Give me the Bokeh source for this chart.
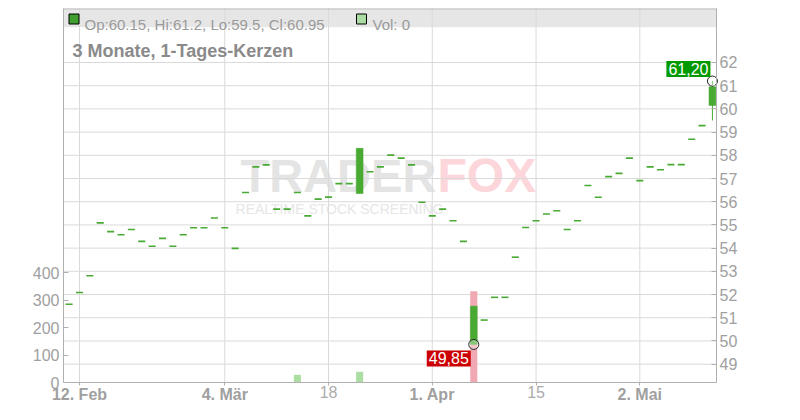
import numpy as np
import pandas as pd
from bokeh.plotting import figure
from bokeh.models import Range1d, LinearAxis, FixedTicker, Label, BoxAnnotation
from bokeh.embed import file_html
from bokeh.resources import INLINE

# ---------------- data ----------------
holidays = ["2025-04-18", "2025-04-21", "2025-05-01"]
dates = pd.bdate_range("2025-02-11", "2025-05-13", freq="C", holidays=holidays)

opens = [51.58, 52.09, 52.81, 55.09, 54.71, 54.58, 54.80, 54.29, 54.08, 54.42,
         54.08, 54.58, 54.88, 54.88, 55.30, 54.88, 53.99, 56.40, 57.50, 57.59,
         55.68, 55.68, 56.40, 55.39, 56.11, 56.20, 56.78, 56.78, 56.35, 57.29,
         57.50, 58.01, 57.88, 57.59, 55.98, 55.39, 55.68, 55.18, 54.29, 49.85,
         50.90, 51.88, 51.88, 53.61, 54.89, 55.18, 55.47, 55.61, 54.80, 55.18,
         56.70, 56.19, 57.08, 57.22, 57.88, 56.91, 57.50, 57.38, 57.60, 57.60,
         58.69, 59.28, 60.15]
highs = [51.58, 52.09, 52.81, 55.09, 54.71, 54.58, 54.80, 54.29, 54.08, 54.42,
         54.08, 54.58, 54.88, 54.88, 55.30, 54.88, 53.99, 56.40, 57.50, 57.59,
         55.68, 55.68, 56.40, 55.39, 56.11, 56.20, 56.78, 56.78, 58.30, 57.29,
         57.50, 58.01, 57.88, 57.59, 55.98, 55.39, 55.68, 55.18, 54.29, 51.50,
         50.90, 51.88, 51.88, 53.61, 54.89, 55.18, 55.47, 55.61, 54.80, 55.18,
         56.70, 56.19, 57.08, 57.22, 57.88, 56.91, 57.50, 57.38, 57.60, 57.60,
         58.69, 59.28, 61.20]
lows = [51.58, 52.09, 52.81, 55.09, 54.71, 54.58, 54.80, 54.29, 54.08, 54.42,
        54.08, 54.58, 54.88, 54.88, 55.30, 54.88, 53.99, 56.40, 57.50, 57.59,
        55.68, 55.68, 56.40, 55.39, 56.11, 56.20, 56.78, 56.78, 56.35, 57.29,
        57.50, 58.01, 57.88, 57.59, 55.98, 55.39, 55.68, 55.18, 54.29, 49.85,
        50.90, 51.88, 51.88, 53.61, 54.89, 55.18, 55.47, 55.61, 54.80, 55.18,
        56.70, 56.19, 57.08, 57.22, 57.88, 56.91, 57.50, 57.38, 57.60, 57.60,
        58.69, 59.28, 59.50]
closes = [51.58, 52.09, 52.81, 55.09, 54.71, 54.58, 54.80, 54.29, 54.08, 54.42,
          54.08, 54.58, 54.88, 54.88, 55.30, 54.88, 53.99, 56.40, 57.50, 57.59,
          55.68, 55.68, 56.40, 55.39, 56.11, 56.20, 56.78, 56.78, 58.30, 57.29,
          57.50, 58.01, 57.88, 57.59, 55.98, 55.39, 55.68, 55.18, 54.29, 51.50,
          50.90, 51.88, 51.88, 53.61, 54.89, 55.18, 55.47, 55.61, 54.80, 55.18,
          56.70, 56.19, 57.08, 57.22, 57.88, 56.91, 57.50, 57.38, 57.60, 57.60,
          58.69, 59.28, 60.95]
volumes = [0, 0, 0, 0, 0, 0, 0, 0, 0, 0,
           0, 0, 0, 0, 0, 0, 0, 0, 0, 0,
           0, 0, 28, 0, 0, 0, 0, 0, 39, 0,
           0, 0, 0, 0, 0, 0, 0, 0, 0, 332,
           0, 0, 0, 0, 0, 0, 0, 0, 0, 0,
           0, 0, 0, 0, 0, 0, 0, 0, 0, 0,
           0, 0, 0]

tick_dates = ["2025-02-12", "2025-03-04", "2025-03-18", "2025-04-01", "2025-04-15", "2025-05-02"]
tick_labels = ["12. Feb", "4. Mär", "18", "1. Apr", "15", "2. Mai"]
tick_bold = [True, True, False, True, False, True]
price_ticks = list(range(49, 63))
vol_ticks = [0, 100, 200, 300, 400]

title_text = "3 Monate, 1-Tages-Kerzen"

# ---------------- geometry (reference px -> data) ----------------
PX_PER_DAY = 10.376
PX_PER_EUR = 23.64
def X(px):
    return (px - 79.0) / PX_PER_DAY + 1
def Y(py):
    return 62 - (py - 66.0) / PX_PER_EUR

W, H = 784, 404
PL, PR = 63, 716          # plot area left/right (canvas px)
TOP, AX = 8, 382          # canvas px of chart top and of the time axis
f = (AX - TOP) / (392 - 11)                  # slight vertical squeeze vs reference
s = (Y(11) - Y(392)) / (AX - TOP)            # price per canvas px
def CY(cy):                                  # canvas px -> price
    return Y(11) - (cy - TOP) * s
def VOL(cy):                                 # canvas px -> volume
    return (AX - cy) / f * 400 / 112.0

o = np.array(opens); h = np.array(highs); l = np.array(lows); c = np.array(closes)
v = np.array(volumes, dtype=float)
k = np.arange(len(dates))
date_keys = [d.strftime("%Y-%m-%d") for d in dates]
tick_pos = np.array([date_keys.index(d) for d in tick_dates])

GREEN = "#49aa33"
AXC = "#b0b0b0"
GRIDC = "#dadada"
FONT = "Liberation Sans"

xl, xr = X(PL), X(PR)
p = figure(width=W, height=H, output_backend="svg", toolbar_location=None, title=None,
           x_range=Range1d(X(0), X(W)), y_range=Range1d(CY(H), CY(0)),
           y_axis_location="right", x_axis_location=None,
           min_border_left=0, min_border_right=0, min_border_top=0, min_border_bottom=0)
p.background_fill_color = "white"
p.border_fill_color = "white"
p.outline_line_color = None
p.xgrid.visible = False
p.ygrid.visible = False

# price axis (right edge of plot area)
pax = p.yaxis[0]
pax.ticker = FixedTicker(ticks=price_ticks)
pax.fixed_location = xr
pax.bounds = (CY(AX), CY(TOP))
pax.major_tick_in = 5
pax.major_tick_out = 0
pax.minor_tick_line_color = None
pax.axis_line_color = AXC
pax.major_tick_line_color = AXC
pax.major_label_standoff = 3
pax.major_label_text_font = FONT
pax.major_label_text_font_size = "16px"
pax.major_label_text_color = "#a0a0a0"

# volume axis (left edge of plot area)
p.extra_y_ranges = {"vol": Range1d(VOL(H), VOL(0))}
vax = LinearAxis(y_range_name="vol", ticker=FixedTicker(ticks=vol_ticks), bounds=(0, VOL(TOP)),
                 fixed_location=xl)
vax.major_tick_in = 5
vax.major_tick_out = 0
vax.minor_tick_line_color = None
vax.axis_line_color = AXC
vax.major_tick_line_color = AXC
vax.major_label_standoff = 4
vax.major_label_text_font = FONT
vax.major_label_text_font_size = "16px"
vax.major_label_text_color = "#a0a0a0"
p.add_layout(vax, "left")

# time axes: bold month labels and plain day labels, both at the axis position
for bold_flag in (True, False):
    sel = [i for i, b in enumerate(tick_bold) if b == bold_flag]
    ax = LinearAxis(fixed_location=CY(AX), bounds=(xl, xr),
                    ticker=FixedTicker(ticks=[int(tick_pos[i]) for i in sel]),
                    major_label_overrides={int(tick_pos[i]): tick_labels[i] for i in sel})
    ax.axis_line_color = AXC if bold_flag else None
    ax.major_tick_in = 0
    ax.major_tick_out = 3
    ax.minor_tick_line_color = None
    ax.major_tick_line_color = AXC
    ax.major_label_standoff = 0
    ax.major_label_text_font = FONT
    ax.major_label_text_font_size = "16px"
    ax.major_label_text_font_style = "bold" if bold_flag else "normal"
    ax.major_label_text_color = "#a0a0a0" if bold_flag else "#ababab"
    p.add_layout(ax, "below")

# header bar + watermark (below grid)
p.add_layout(BoxAnnotation(left=xl, right=xr, top=CY(TOP), bottom=Y(30), fill_color="#e6e6e6",
                           fill_alpha=1.0, line_color=None, level="image"))
p.add_layout(Label(x=X(240), y=Y(208), text="TRADER", text_font=FONT, text_font_style="bold",
                   text_font_size="47px", text_color="#e4e4e4", level="image"))
p.add_layout(Label(x=X(437), y=Y(208), text="FOX", text_font=FONT, text_font_style="bold",
                   text_font_size="48px", text_color="#fcd6da", level="image"))
p.add_layout(Label(x=X(339), y=Y(223), text="REALTIME STOCK SCREENING", text_font=FONT,
                   text_font_size="14px", text_color="#e6e6e6", text_align="center", level="image"))

# grid lines and top border
npt = len(price_ticks)
p.segment(x0=[xl] * npt, y0=price_ticks, x1=[xr] * npt, y1=price_ticks, line_color=GRIDC, line_width=1, level="underlay")
p.segment(x0=tick_pos, y0=CY(AX), x1=tick_pos, y1=CY(TOP), line_color=GRIDC, line_width=1, level="underlay")
p.segment(x0=[xl], y0=[CY(TOP + 0.5)], x1=[xr], y1=[CY(TOP + 0.5)], line_color="#bdbdbd", line_width=1)

# volume bars
prev = np.concatenate([[c[0]], c[:-1]])
vmask = v > 0
vcol = np.where(c[vmask] >= prev[vmask], "#acdea4", "#f0a9b2")
p.vbar(x=k[vmask], width=0.68, top=v[vmask], bottom=0, y_range_name="vol",
       fill_color=vcol, line_color=None)

# candles
doji = (o == c) & (h == l)
full = ~doji
p.segment(x0=k[full], y0=l[full], x1=k[full], y1=h[full], line_color=GREEN, line_width=1)
p.vbar(x=k[full], width=0.66, top=np.maximum(o, c)[full], bottom=np.minimum(o, c)[full],
       fill_color=GREEN, line_color=GREEN, line_width=0.5)
p.segment(x0=k[doji] - 0.34, y0=c[doji], x1=k[doji] + 0.34, y1=c[doji],
          line_color=GREEN, line_width=1.6)

# extreme markers
imax = int(np.argmax(h)); imin = int(np.argmin(l))
p.scatter(x=[k[imax], k[imin]], y=[h[imax], l[imin]], marker="circle", size=10,
          fill_color="white", fill_alpha=0.35, line_color="#222222", line_width=1)
p.add_layout(Label(x=k[imax] - 2 / PX_PER_DAY, y=h[imax] + 4 * s,
                   text=f"{h[imax]:.2f}".replace(".", ","), text_font=FONT, text_font_size="16px",
                   text_color="white", text_align="right", text_baseline="bottom",
                   background_fill_color="#009a00", padding=2))
p.add_layout(Label(x=k[imin] - 3 / PX_PER_DAY, y=l[imin] - 6 * s,
                   text=f"{l[imin]:.2f}".replace(".", ","), text_font=FONT, text_font_size="16px",
                   text_color="white", text_align="right", text_baseline="top",
                   background_fill_color="#cc0000", padding=2))

# header legend
p.scatter(x=[X(73.5)], y=[Y(21.7)], marker="square", size=10, fill_color="#3f9e2d", line_color="black", line_width=1)
p.scatter(x=[X(361)], y=[Y(21.7)], marker="square", size=10, fill_color="#abdca4", line_color="black", line_width=1)
legend_text = f"Op:{opens[-1]}, Hi:{highs[-1]}, Lo:{lows[-1]}, Cl:{closes[-1]}"
p.add_layout(Label(x=X(84), y=Y(27), text=legend_text, text_font=FONT, text_font_size="15px",
                   text_color="#9a9a9a", text_baseline="alphabetic"))
p.add_layout(Label(x=X(372), y=Y(27), text=f"Vol: {int(volumes[-1])}", text_font=FONT, text_font_size="15px",
                   text_color="#9a9a9a", text_baseline="alphabetic"))
p.add_layout(Label(x=X(72), y=Y(54), text=title_text, text_font=FONT, text_font_size="18px",
                   text_font_style="bold", text_color="#8a8a8a", text_baseline="alphabetic"))

open("out.html", "w").write(file_html(p, INLINE))
